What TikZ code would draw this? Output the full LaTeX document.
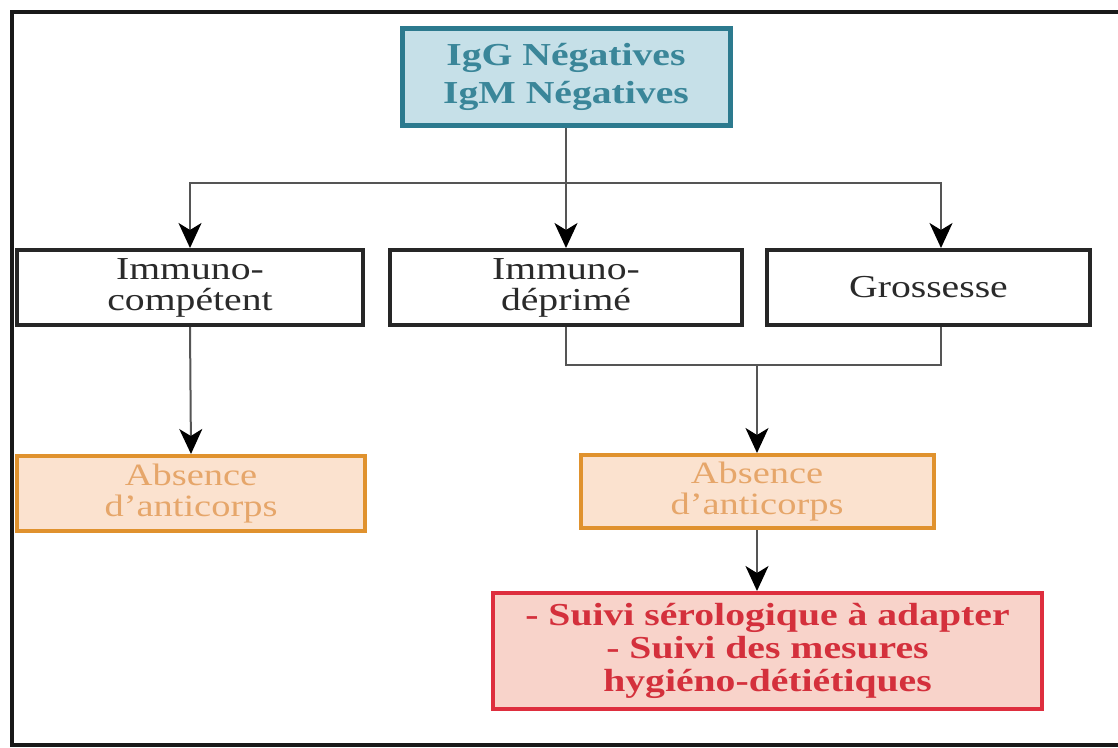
\documentclass[tikz,border=0pt]{standalone}
\usepackage{fontspec}
\setmainfont{Liberation Serif}[FakeStretch=1.24]
\usetikzlibrary{arrows.meta}
\definecolor{tealline}{HTML}{2C7A8E}
\definecolor{tealfill}{HTML}{C6E0E8}
\definecolor{tealtext}{HTML}{3A8699}
\definecolor{orline}{HTML}{E0922E}
\definecolor{orfill}{HTML}{FBE2CF}
\definecolor{ortext}{HTML}{E6A66A}
\definecolor{redline}{HTML}{DE2E3E}
\definecolor{redfill}{HTML}{F8D3CA}
\definecolor{redtext}{HTML}{D4303C}
\definecolor{darktext}{HTML}{2A2A2A}
\definecolor{connline}{HTML}{555555}
\tikzset{
  basebox/.style={inner sep=0pt, align=center, font=\fontsize{32}{31}\selectfont},
  topbox/.style={basebox, draw=tealline, fill=tealfill, line width=5pt, text=tealtext, font=\fontsize{32}{38}\selectfont\bfseries},
  whitebox/.style={basebox, draw=black!85, fill=white, line width=4pt, text=darktext},
  orbox/.style={basebox, draw=orline, fill=orfill, line width=4pt, text=ortext, font=\fontsize{31}{31}\selectfont},
  redbox/.style={basebox, draw=redline, fill=redfill, line width=4pt, text=redtext, font=\fontsize{32}{33}\selectfont\bfseries},
  conn/.style={draw=connline, line width=2pt},
  arr/.style={conn, -{Stealth[length=25pt, width=23pt, inset=7pt, color=black]}},
}
\begin{document}
\begin{tikzpicture}[x=1pt, y=-1pt]
\useasboundingbox (0,0) rectangle (1118,747);
\draw[line width=4pt, black!90] (1130,12) -- (12,12) -- (12,745) -- (1130,745);

\node[topbox, minimum width=328pt, minimum height=97pt] (top) at (566,76.5) {IgG Négatives\\IgM Négatives};

\node[whitebox, minimum width=346pt, minimum height=75pt] (imc) at (190,287.5) {Immuno-\\compétent};
\node[whitebox, minimum width=352pt, minimum height=75pt] (imd) at (566,287.5) {Immuno-\\déprimé};
\node[whitebox, minimum width=323pt, minimum height=75pt] (gro) at (928.5,287.5) {Grossesse};

\node[orbox, minimum width=348pt, minimum height=75pt] (ab1) at (191,493.5) {Absence\\d'anticorps};
\node[orbox, minimum width=353pt, minimum height=73pt] (ab2) at (757,491.5) {Absence\\d'anticorps};

\node[redbox, minimum width=549pt, minimum height=116pt] (red) at (767.5,651) {- Suivi sérologique à adapter\\- Suivi des mesures\\hygiéno-détiétiques};

\coordinate (hub) at (566,183);
\coordinate (grin) at ([xshift=12.5pt]gro.north);
\coordinate (grout) at ([xshift=12.5pt]gro.south);
\coordinate (mid) at (757,365);

\draw[conn] (top.south) -- (hub);
\draw[arr] (hub) -| (imc.north);
\draw[arr] (hub) -- (imd.north);
\draw[arr] (hub) -| (grin);

\draw[arr] (imc.south) -- (ab1.north);
\draw[conn] (imd.south) |- (mid) -| (grout);
\draw[arr] (mid) -- (ab2.north);
\draw[arr] (ab2.south) -- (ab2.south |- red.north);
\end{tikzpicture}
\end{document}
